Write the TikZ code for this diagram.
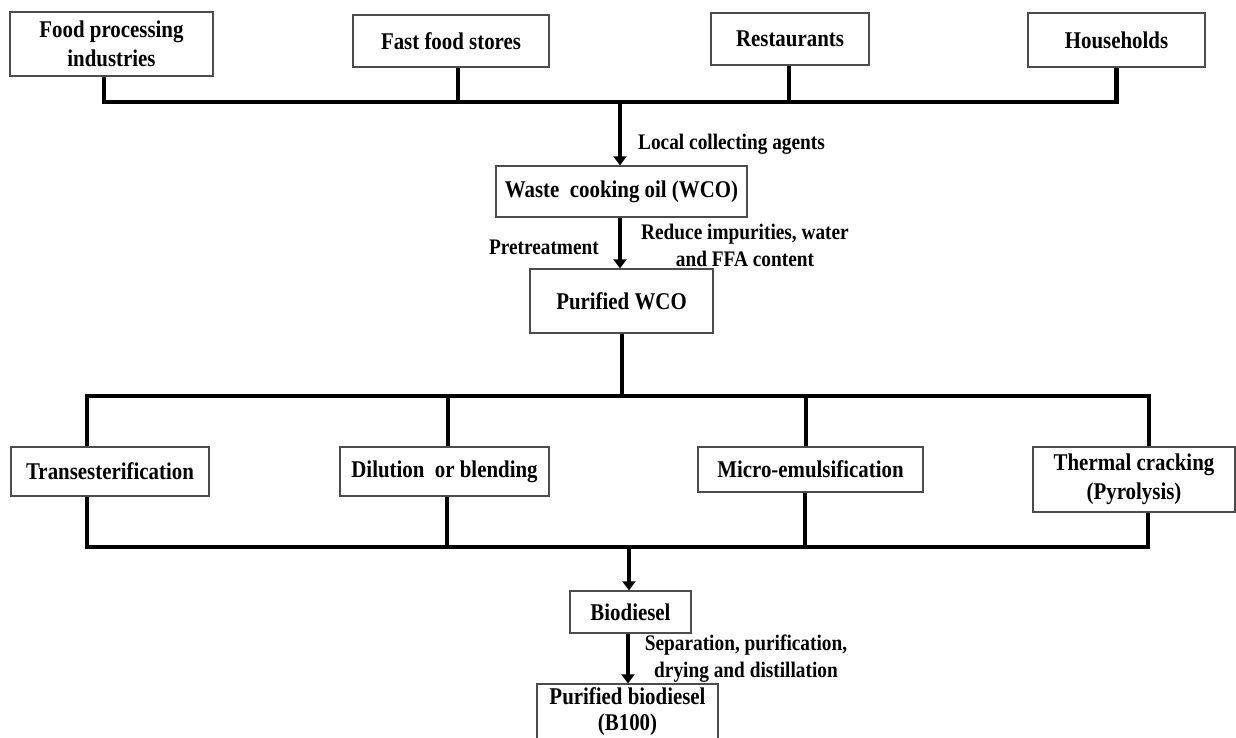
\documentclass[tikz,border=0pt]{standalone}
\usepackage{fontspec}
\setmainfont{Liberation Serif}[FakeStretch=0.87]
\usetikzlibrary{arrows.meta,calc}
\begin{document}
\begin{tikzpicture}[x=1pt,y=-1pt,
  box/.style={draw=black!70, line width=1.3pt, fill=white, inner sep=0pt, align=center, text=black,
    font=\bfseries\fontsize{24}{29}\selectfont},
  lbl/.style={inner sep=0pt, align=center, text=black, font=\bfseries\fontsize{22.2}{27}\selectfont},
  conn/.style={draw=black, line width=4.5pt, line join=miter},
  arr/.style={draw=black, line width=4.5pt, -{Triangle[width=13pt,length=9pt]}}]
\clip (0,0) rectangle (1236,737);
\fill[white] (0,0) rectangle (1236,737);
% top sources
\node[box, minimum width=203pt, minimum height=64pt] (food) at (111.5,44) {Food processing\\industries};
\node[box, minimum width=196pt, minimum height=52pt] (fast) at (451,41) {Fast food stores};
\node[box, minimum width=158pt, minimum height=52pt] (rest) at (790,39) {Restaurants};
\node[box, minimum width=177pt, minimum height=54pt] (house) at (1116.5,40) {Households};
% middle chain
\node[box, minimum width=251pt, minimum height=51pt] (wco) at (621.5,191.5) {Waste\ \ cooking oil (WCO)};
\node[box, minimum width=183pt, minimum height=64pt] (pwco) at (621.5,301) {Purified WCO};
% processes
\node[box, minimum width=198pt, minimum height=49pt] (trans) at (110,471.5) {Transesterification};
\node[box, minimum width=209pt, minimum height=49pt] (dil) at (444.5,471.5) {Dilution\ \ or blending};
\node[box, minimum width=225pt, minimum height=45pt] (micro) at (810.5,469.5) {Micro-emulsification};
\node[box, minimum width=202pt, minimum height=65pt] (therm) at (1134,479.5) {Thermal cracking\\(Pyrolysis)};
% products
\node[box, minimum width=121pt, minimum height=42pt] (bio) at (630.5,612) {Biodiesel};
\node[box, minimum width=181pt, minimum height=64pt, font=\bfseries\fontsize{24}{26}\selectfont] (pbio) at (627.5,716)
  {\raisebox{4pt}[\height][\depth]{\renewcommand{\arraystretch}{1}\begin{tabular}{@{}c@{}}Purified biodiesel\\(B100)\end{tabular}}};
% hubs
\coordinate (h1) at (620,102);
\coordinate (h2) at (622,396);
\coordinate (h3) at (629,547);
% top bus
\draw[conn] ([xshift=-7.5pt]food.south) |- (house.south |- h1) -- (house.south);
\draw[conn] ([xshift=7pt]fast.south) -- ([xshift=7pt]fast.south |- h1);
\draw[conn] ([xshift=-1pt]rest.south) -- ([xshift=-1pt]rest.south |- h1);
\draw[arr] (h1) -- (h1 |- wco.north);
\draw[arr] (wco.south -| h1) -- (pwco.north -| h1);
% second bus
\draw[conn] (pwco.south -| h2) -- (h2);
\draw[conn] ([xshift=-23pt]trans.north) |- ([xshift=15pt]therm.north |- h2) -- ([xshift=15pt]therm.north);
\draw[conn] ([xshift=3.5pt]dil.north) -- ([xshift=3.5pt]dil.north |- h2);
\draw[conn] ([xshift=-4.5pt]micro.north) -- ([xshift=-4.5pt]micro.north |- h2);
% bottom bus
\draw[conn] ([xshift=-23pt]trans.south) |- ([xshift=14pt]therm.south |- h3) -- ([xshift=14pt]therm.south);
\draw[conn] ([xshift=2.5pt]dil.south) -- ([xshift=2.5pt]dil.south |- h3);
\draw[conn] ([xshift=-5.5pt]micro.south) -- ([xshift=-5.5pt]micro.south |- h3);
\draw[arr] (h3) -- (h3 |- bio.north);
\draw[arr] ([xshift=-2.5pt]bio.south) -- ([xshift=-2.5pt]bio.south |- pbio.north);
% labels
\node[lbl, anchor=west] (l1) at (638,144) {Local collecting agents};
\node[lbl, anchor=east] (l2) at (599,247) {Pretreatment};
\node[lbl] (l3) at (745,245.5) {Reduce impurities, water\\and FFA content};
\node[lbl] (l4) at (746,658.5) {Separation, purification,\\drying and distillation};
\end{tikzpicture}
\end{document}
